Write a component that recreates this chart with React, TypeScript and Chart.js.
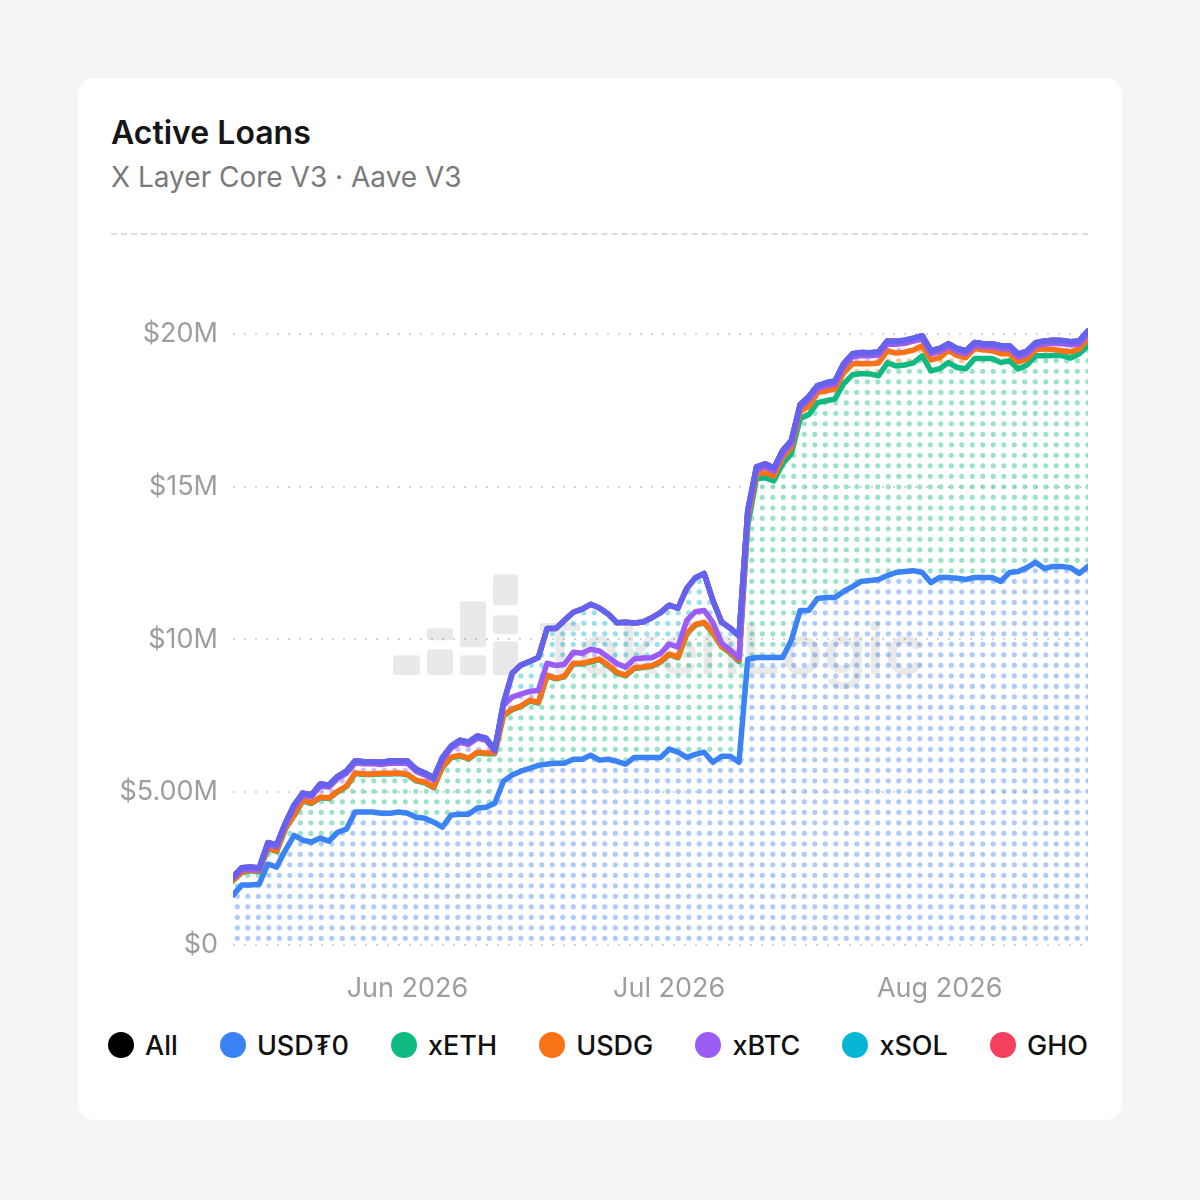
import React, { useEffect, useRef } from 'react';
import { Chart, registerables } from 'chart.js';

Chart.register(...registerables);

// ---- Data (values in $M), one point per day starting 2026-05-12 ----
const START_DATE = '2026-05-12';
const DAY_COUNT = 99;

const USDT0 = [
  1.63, 1.96, 1.96, 1.99, 2.65, 2.55, 3.10, 3.59, 3.43, 3.37,
  3.50, 3.40, 3.69, 3.79, 4.35, 4.35, 4.35, 4.31, 4.31, 4.35,
  4.31, 4.18, 4.15, 4.02, 3.86, 4.25, 4.28, 4.28, 4.48, 4.51,
  4.64, 5.36, 5.56, 5.69, 5.78, 5.88, 5.92, 5.95, 5.95, 6.08,
  6.08, 6.21, 6.05, 6.08, 6.01, 5.92, 6.14, 6.14, 6.14, 6.14,
  6.41, 6.31, 6.14, 6.24, 6.31, 5.98, 6.18, 6.18, 5.98, 9.35,
  9.41, 9.41, 9.41, 9.41, 9.97, 10.95, 10.95, 11.34, 11.37, 11.37,
  11.57, 11.73, 11.90, 11.93, 11.96, 12.09, 12.19, 12.22, 12.25, 12.19,
  11.86, 12.03, 12.03, 12.00, 11.96, 12.03, 12.03, 12.03, 11.90, 12.19,
  12.22, 12.35, 12.52, 12.32, 12.39, 12.39, 12.35, 12.16, 12.39,
];

const XETH = [
  0.47, 0.41, 0.47, 0.41, 0.51, 0.51, 0.70, 0.64, 1.29, 1.26,
  1.32, 1.39, 1.32, 1.39, 1.26, 1.23, 1.23, 1.29, 1.29, 1.26,
  1.26, 1.19, 1.16, 1.13, 1.95, 1.88, 1.91, 1.81, 1.81, 1.75,
  1.62, 2.14, 2.14, 2.11, 2.21, 2.04, 2.89, 2.76, 2.83, 3.12,
  3.12, 3.06, 3.29, 3.06, 2.89, 2.89, 2.91, 2.94, 2.98, 3.12,
  3.09, 3.09, 4.04, 4.23, 4.23, 4.23, 3.58, 3.38, 3.30, 4.38,
  5.85, 5.88, 5.78, 6.34, 6.11, 6.27, 6.41, 6.41, 6.44, 6.50,
  6.80, 6.93, 6.80, 6.76, 6.67, 6.96, 6.76, 6.76, 6.80, 7.09,
  6.93, 6.83, 7.03, 6.90, 6.90, 7.16, 7.16, 7.16, 7.16, 6.93,
  6.63, 6.63, 6.76, 6.96, 6.90, 6.90, 6.86, 7.19, 7.22,
];

const USDG = [
  0.02, 0.02, 0.02, 0.02, 0.02, 0.02, 0.02, 0.02, 0.02, 0.02,
  0.02, 0.02, 0.02, 0.02, 0.02, 0.02, 0.02, 0.02, 0.02, 0.02,
  0.02, 0.02, 0.02, 0.02, 0.02, 0.02, 0.02, 0.02, 0.02, 0.02,
  0.02, 0.02, 0.02, 0.02, 0.02, 0.02, 0.02, 0.02, 0.02, 0.02,
  0.02, 0.02, 0.02, 0.02, 0.02, 0.02, 0.02, 0.02, 0.02, 0.02,
  0.02, 0.02, 0.02, 0.02, 0.02, 0.02, 0.02, 0.02, 0.04, 0.23,
  0.16, 0.16, 0.16, 0.20, 0.20, 0.26, 0.26, 0.33, 0.33, 0.33,
  0.36, 0.36, 0.33, 0.33, 0.42, 0.39, 0.42, 0.42, 0.42, 0.33,
  0.36, 0.36, 0.39, 0.39, 0.36, 0.33, 0.29, 0.26, 0.29, 0.23,
  0.23, 0.20, 0.20, 0.23, 0.20, 0.16, 0.20, 0.16, 0.23,
];

const XBTC = [
  0.07, 0.07, 0.03, 0.03, 0.10, 0.13, 0.10, 0.26, 0.16, 0.20,
  0.36, 0.36, 0.42, 0.42, 0.33, 0.33, 0.33, 0.29, 0.33, 0.33,
  0.36, 0.29, 0.23, 0.23, 0.23, 0.29, 0.42, 0.46, 0.46, 0.42,
  0.07, 0.33, 0.39, 0.39, 0.29, 0.39, 0.39, 0.42, 0.39, 0.36,
  0.33, 0.39, 0.26, 0.26, 0.29, 0.26, 0.29, 0.29, 0.26, 0.26,
  0.33, 0.33, 0.42, 0.42, 0.39, 0.33, 0.10, 0.07, 0.07, 0.16,
  0.13, 0.20, 0.16, 0.13, 0.13, 0.10, 0.23, 0.13, 0.16, 0.16,
  0.20, 0.23, 0.26, 0.26, 0.26, 0.23, 0.29, 0.29, 0.29, 0.23,
  0.20, 0.20, 0.13, 0.13, 0.13, 0.10, 0.10, 0.13, 0.16, 0.16,
  0.16, 0.16, 0.13, 0.16, 0.20, 0.23, 0.23, 0.16, 0.16,
];

const XSOL = [
  0.03, 0.07, 0.07, 0.07, 0.07, 0.07, 0.07, 0.07, 0.07, 0.07,
  0.07, 0.07, 0.07, 0.07, 0.07, 0.07, 0.07, 0.07, 0.07, 0.07,
  0.07, 0.07, 0.07, 0.07, 0.07, 0.07, 0.07, 0.07, 0.07, 0.07,
  0.03, 0.07, 0.78, 0.95, 0.98, 1.08, 1.14, 1.21, 1.44, 1.31,
  1.44, 1.47, 1.41, 1.41, 1.34, 1.47, 1.18, 1.18, 1.31, 1.34,
  1.27, 1.27, 1.05, 1.11, 1.21, 0.72, 0.69, 0.72, 0.72, 0.10,
  0.10, 0.10, 0.10, 0.10, 0.10, 0.10, 0.10, 0.10, 0.10, 0.10,
  0.10, 0.10, 0.10, 0.10, 0.10, 0.10, 0.10, 0.10, 0.10, 0.10,
  0.10, 0.10, 0.10, 0.10, 0.10, 0.10, 0.10, 0.10, 0.10, 0.10,
  0.10, 0.10, 0.10, 0.10, 0.10, 0.10, 0.10, 0.10, 0.10,
];

const GHO = [
  0, 0, 0, 0, 0, 0, 0, 0, 0, 0,
  0, 0, 0, 0, 0, 0, 0, 0, 0, 0,
  0, 0, 0, 0, 0, 0, 0, 0, 0, 0,
  0, 0, 0, 0, 0, 0, 0, 0, 0, 0,
  0, 0, 0, 0, 0, 0, 0, 0, 0, 0,
  0, 0, 0, 0, 0, 0, 0, 0, 0, 0,
  0, 0, 0, 0, 0, 0, 0, 0, 0, 0,
  0, 0, 0, 0, 0, 0, 0, 0, 0, 0,
  0, 0, 0, 0, 0, 0, 0, 0, 0, 0,
  0, 0, 0, 0, 0, 0, 0, 0, 0,
];

const SERIES_NAMES = ['USD₮0', 'xETH', 'USDG', 'xBTC', 'xSOL', 'GHO'];
const SERIES_VALUES = [USDT0, XETH, USDG, XBTC, XSOL, GHO];
const SERIES_COLORS = ['#3b82f6', '#10b981', '#f97316', '#9b5cf6', '#06b6d4', '#f43f5e'];
const SERIES_DOTS = [
  'rgba(59,130,246,0.42)',
  'rgba(16,185,129,0.42)',
  'rgba(249,115,22,0.42)',
  'rgba(139,92,246,0.42)',
  'rgba(6,182,212,0.42)',
  'rgba(244,63,94,0.42)',
];
const TOTAL_NAME = 'All';
const TOTAL_LEGEND_COLOR = '#000000';
const TOTAL_LINE_COLOR = '#6462f0';

const X_TICK_DAYS = [20, 50, 81];
const X_TICK_LABELS = ['Jun 2026', 'Jul 2026', 'Aug 2026'];
const Y_TICK_VALUES = [0, 5, 10, 15, 20];
const Y_TICK_LABELS = ['$0', '$5.00M', '$10M', '$15M', '$20M'];
const Y_MAX = 23;

const TITLE = 'Active Loans';
const SUBTITLE = 'X Layer Core V3 · Aave V3';
const WATERMARK = 'TokenLogic';

const FONT = 'Inter, "Noto Sans", "DejaVu Sans", sans-serif';

const DAY_INDEX = Array.from({ length: DAY_COUNT }, (_, i) => i);

function makeDotPattern(ctx: CanvasRenderingContext2D, color: string) {
  const tile = document.createElement('canvas');
  tile.width = 21;
  tile.height = 21;
  const c = tile.getContext('2d')!;
  c.fillStyle = color;
  const spots = [
    [2.8, 2.8],
    [13.3, 2.8],
    [2.8, 13.3],
    [13.3, 13.3],
  ];
  for (const [x, y] of spots) {
    c.beginPath();
    c.arc(x, y, 2.6, 0, Math.PI * 2);
    c.fill();
  }
  return ctx.createPattern(tile, 'repeat') as CanvasPattern;
}

const watermarkPlugin = {
  id: 'watermark',
  beforeDatasetsDraw(chart: any) {
    const { ctx, chartArea } = chart;
    const ox = chartArea.left;
    const oy = chartArea.top;
    ctx.save();
    ctx.fillStyle = 'rgba(0,0,0,0.085)';
    const blocks = [
      [160, 413, 27, 20],
      [194, 386, 26, 12],
      [194, 407, 26, 26],
      [227, 359, 26, 46],
      [227, 413, 26, 20],
      [260, 332, 25, 31],
      [260, 373, 25, 19],
      [260, 399, 25, 34],
    ];
    for (const [x, y, w, h] of blocks) {
      ctx.beginPath();
      if ((ctx as any).roundRect) (ctx as any).roundRect(ox + x, oy + y, w, h, 3);
      else ctx.rect(ox + x, oy + y, w, h);
      ctx.fill();
    }
    ctx.font = `600 80px ${FONT}`;
    const w = ctx.measureText(WATERMARK).width;
    const target = 388;
    const size = (80 * target) / w;
    ctx.font = `600 ${size}px ${FONT}`;
    ctx.textBaseline = 'alphabetic';
    ctx.fillText(WATERMARK, ox + 304, oy + 432);
    ctx.restore();
  },
};

function ChartCanvas() {
  const ref = useRef<HTMLCanvasElement | null>(null);
  useEffect(() => {
    const canvas = ref.current!;
    const ctx = canvas.getContext('2d')!;
    let acc = new Array(DAY_COUNT).fill(0);
    const datasets: any[] = SERIES_NAMES.map((name, i) => {
      acc = acc.map((a, j) => a + SERIES_VALUES[i][j]);
      return {
        label: name,
        data: acc.slice(),
        borderColor: SERIES_COLORS[i],
        backgroundColor: makeDotPattern(ctx, SERIES_DOTS[i]),
        fill: i === 0 ? 'origin' : '-1',
        borderWidth: 5.5,
        pointRadius: 0,
        pointHoverRadius: 0,
        tension: 0,
        borderJoinStyle: 'round',
        borderCapStyle: 'round',
        order: 10 - i,
      };
    });
    datasets.push({
      label: TOTAL_NAME,
      data: acc.slice(),
      borderColor: TOTAL_LINE_COLOR,
      backgroundColor: 'transparent',
      fill: false,
      borderWidth: 5.5,
      pointRadius: 0,
      pointHoverRadius: 0,
      tension: 0,
      borderJoinStyle: 'round',
      borderCapStyle: 'round',
      order: 0,
    });

    const chart = new Chart(canvas, {
      type: 'line',
      data: { labels: DAY_INDEX, datasets },
      plugins: [watermarkPlugin],
      options: {
        animation: false,
        responsive: false,
        maintainAspectRatio: false,
        layout: { padding: { left: 0, right: 10, top: 0, bottom: 0 } },
        plugins: {
          legend: { display: false },
          tooltip: { enabled: false },
          filler: { drawTime: 'beforeDatasetsDraw' },
        } as any,
        scales: {
          x: {
            type: 'linear',
            min: 0,
            max: DAY_COUNT - 1,
            afterBuildTicks: (s: any) => {
              s.ticks = X_TICK_DAYS.map((v) => ({ value: v }));
            },
            afterFit: (s: any) => {
              s.height = 70;
            },
            ticks: {
              padding: 28,
              color: '#9e9e9e',
              font: { family: FONT, size: 27 },
              maxRotation: 0,
              autoSkip: false,
              callback: (v: any) => {
                const k = X_TICK_DAYS.indexOf(Number(v));
                return k >= 0 ? X_TICK_LABELS[k] : '';
              },
            },
            grid: { display: false, drawTicks: false },
            border: { display: false },
          },
          y: {
            type: 'linear',
            min: 0,
            max: Y_MAX,
            afterBuildTicks: (s: any) => {
              s.ticks = Y_TICK_VALUES.map((v) => ({ value: v }));
            },
            afterFit: (s: any) => {
              s.width = 135;
            },
            ticks: {
              padding: 15,
              color: '#9e9e9e',
              font: { family: FONT, size: 27 },
              callback: (v: any) => {
                const k = Y_TICK_VALUES.indexOf(Number(v));
                return k >= 0 ? Y_TICK_LABELS[k] : '';
              },
            },
            grid: { color: '#d4d4d4', lineWidth: 2, drawTicks: false },
            border: { display: false, dash: [2, 9] },
          },
        },
      } as any,
    });
    return () => chart.destroy();
  }, []);
  return (
    <canvas
      ref={ref}
      width={1000}
      height={804}
      style={{ position: 'absolute', left: 20, top: 133, width: 1000, height: 804 }}
    />
  );
}

export default function App() {
  useEffect(() => {
    document.body.style.margin = '0';
  }, []);
  const legendItems = [
    { name: TOTAL_NAME, color: TOTAL_LEGEND_COLOR },
    ...SERIES_NAMES.map((n, i) => ({ name: n, color: SERIES_COLORS[i] })),
  ];
  return (
    <div
      style={{
        position: 'fixed',
        left: 0,
        top: 0,
        width: 1200,
        height: 1200,
        background: '#f5f5f5',
        fontFamily: FONT,
      }}
    >
      <div
        style={{
          position: 'absolute',
          left: 78,
          top: 78,
          width: 1044,
          height: 1042,
          background: '#ffffff',
          borderRadius: 16,
        }}
      >
        <div
          style={{
            position: 'absolute',
            left: 33,
            top: 37,
            fontSize: 32,
            fontWeight: 600,
            lineHeight: '36px',
            color: '#161616',
          }}
        >
          {TITLE}
        </div>
        <div
          style={{
            position: 'absolute',
            left: 33,
            top: 82,
            fontSize: 28,
            fontWeight: 400,
            lineHeight: '34px',
            color: '#7a7a7a',
          }}
        >
          {SUBTITLE}
        </div>
        <div
          style={{
            position: 'absolute',
            left: 33,
            top: 155,
            width: 977,
            height: 0,
            borderTop: '2px dashed #dddddd',
          }}
        />
        <ChartCanvas />
        <div
          style={{
            position: 'absolute',
            left: 30,
            top: 949,
            width: 980,
            height: 36,
            display: 'flex',
            justifyContent: 'space-between',
            alignItems: 'center',
          }}
        >
          {legendItems.map((it) => (
            <div key={it.name} style={{ display: 'flex', alignItems: 'center' }}>
              <span
                style={{
                  display: 'inline-block',
                  width: 26,
                  height: 26,
                  borderRadius: 13,
                  background: it.color,
                  marginRight: 11,
                }}
              />
              <span style={{ fontSize: 27, fontWeight: 500, color: '#111111' }}>{it.name}</span>
            </div>
          ))}
        </div>
      </div>
    </div>
  );
}
